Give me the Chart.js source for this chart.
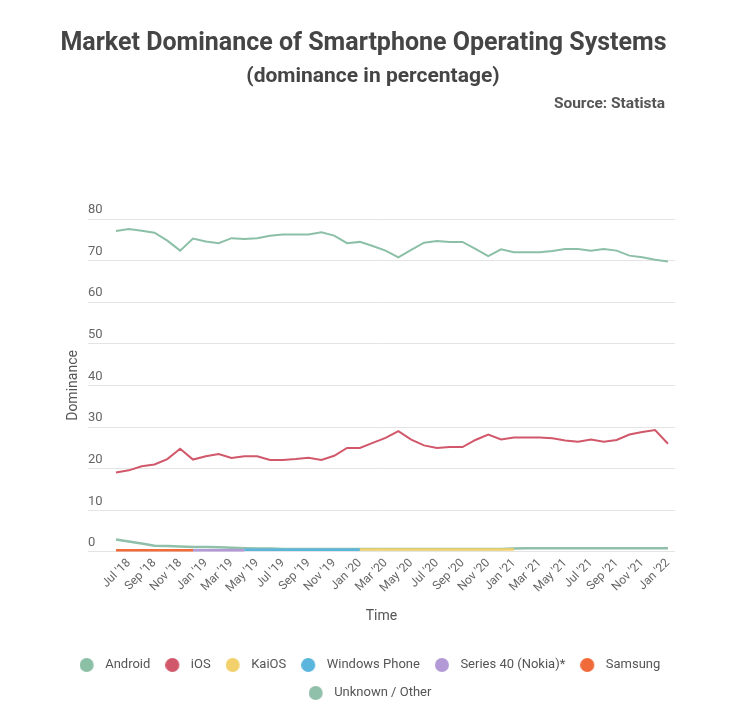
<!DOCTYPE html>
<html>
<head>
<meta charset="utf-8">
<script src="https://cdn.jsdelivr.net/npm/chart.js@4"></script>
<style>
html,body{margin:0;padding:0;background:#fff;}
#wrap{width:740px;height:726px;position:relative;}
</style>
</head>
<body>
<div id="wrap"><canvas id="c" width="740" height="726"></canvas></div>
<script>
const titleText = 'Market Dominance of Smartphone Operating Systems';
const subtitleText = '(dominance in percentage)';
const sourceText = 'Source: Statista';

const months = ["Jun '18","Jul '18","Aug '18","Sep '18","Oct '18","Nov '18","Dec '18",
  "Jan '19","Feb '19","Mar '19","Apr '19","May '19","Jun '19","Jul '19","Aug '19","Sep '19","Oct '19","Nov '19","Dec '19",
  "Jan '20","Feb '20","Mar '20","Apr '20","May '20","Jun '20","Jul '20","Aug '20","Sep '20","Oct '20","Nov '20","Dec '20",
  "Jan '21","Feb '21","Mar '21","Apr '21","May '21","Jun '21","Jul '21","Aug '21","Sep '21","Oct '21","Nov '21","Dec '21",
  "Jan '22"];
const tickIndex = [1,3,5,7,9,11,13,15,17,19,21,23,25,27,29,31,33,35,37,39,41,43];
const yTicks = [0,10,20,30,40,50,60,70,80];

const android = [77.1,77.6,77.2,76.7,74.8,72.4,75.3,74.6,74.2,75.4,75.2,75.4,76.0,76.3,76.3,76.3,76.8,76.0,74.2,74.5,73.5,72.4,70.8,72.6,74.3,74.7,74.5,74.5,72.8,71.1,72.7,72.0,72.0,72.0,72.3,72.8,72.8,72.4,72.8,72.4,71.2,70.8,70.2,69.8];
const ios = [19.1,19.6,20.6,21.0,22.3,24.8,22.2,23.0,23.5,22.6,23.0,23.0,22.1,22.1,22.3,22.6,22.1,23.1,25.0,25.0,26.2,27.4,29.0,27.0,25.6,25.0,25.2,25.2,26.9,28.2,27.0,27.5,27.5,27.5,27.3,26.8,26.5,27.0,26.5,26.9,28.2,28.8,29.3,26.0];
const kaios = [null,null,null,null,null,null,null,null,null,null,null,null,null,null,null,null,null,null,null,0.6,0.6,0.6,0.6,0.6,0.6,0.6,0.6,0.6,0.6,0.6,0.6,0.6,null,null,null,null,null,null,null,null,null,null,null,null];
const windowsPhone = [null,null,null,null,null,null,null,null,null,null,0.5,0.5,0.5,0.5,0.5,0.5,0.5,0.5,0.5,0.5,null,null,null,null,null,null,null,null,null,null,null,null,null,null,null,null,null,null,null,null,null,null,null,null];
const series40 = [null,null,null,null,null,null,0.4,0.4,0.4,0.4,0.4,null,null,null,null,null,null,null,null,null,null,null,null,null,null,null,null,null,null,null,null,null,null,null,null,null,null,null,null,null,null,null,null,null];
const samsung = [0.4,0.4,0.4,0.4,0.4,0.4,0.4,null,null,null,null,null,null,null,null,null,null,null,null,null,null,null,null,null,null,null,null,null,null,null,null,null,null,null,null,null,null,null,null,null,null,null,null,null];
const unknown = [3.0,2.5,2.0,1.5,1.4,1.3,1.2,1.2,1.1,1.0,0.9,0.8,0.8,0.7,0.7,0.7,0.7,0.7,0.7,0.7,0.7,0.7,0.7,0.7,0.7,0.7,0.7,0.7,0.7,0.7,0.7,0.8,0.9,0.9,0.9,0.9,0.9,0.9,0.9,0.9,0.9,0.9,0.9,0.9];

const seriesNames = ['Android','iOS','KaiOS','Windows Phone','Series 40 (Nokia)*','Samsung','Unknown / Other'];
const seriesColors = ['#8cc0a6','#d1576a','#f2d06b','#5ab6dd','#b39ad6','#f06a3a','#90bfaa'];
const seriesData = [android, ios, kaios, windowsPhone, series40, samsung, unknown];

function makeDot(color){
  const c = document.createElement('canvas');
  c.width = 19; c.height = 14;
  const g = c.getContext('2d');
  g.fillStyle = color;
  g.beginPath(); g.arc(7,7,7,0,Math.PI*2); g.fill();
  return c;
}
const dots = seriesColors.map(makeDot);

const header = {
  id: 'header',
  afterDraw(chart){
    const ctx = chart.ctx;
    ctx.save();
    ctx.textBaseline = 'middle';
    ctx.textAlign = 'center';
    ctx.fillStyle = '#454545';
    ctx.font = 'bold 25px Roboto';
    ctx.fillText(titleText, 363.5, 44);
    ctx.font = 'bold 21px Roboto';
    ctx.fillText(subtitleText, 373, 77);
    ctx.textAlign = 'right';
    ctx.fillStyle = '#555';
    ctx.font = 'bold 15.5px Roboto';
    ctx.fillText(sourceText, 665, 104);
    ctx.restore();
  }
};

const datasets = seriesNames.map((name, k) => ({
  label: name,
  data: seriesData[k].map((v, i) => ({x: i, y: v})),
  borderColor: seriesColors[k],
  backgroundColor: seriesColors[k],
  borderWidth: k < 2 ? 2 : 2.5,
  pointRadius: 0,
  pointHoverRadius: 0,
  tension: 0,
  fill: false,
  spanGaps: false
}));

new Chart(document.getElementById('c'), {
  type: 'line',
  data: { datasets },
  options: {
    responsive: false,
    devicePixelRatio: 1,
    animation: false,
    layout: { padding: { top: 219, bottom: 16.5, left: 0, right: 0 } },
    scales: {
      x: {
        type: 'linear',
        min: -2.18,
        max: 43.55,
        grid: { display: false, drawTicks: false },
        border: { display: false },
        afterBuildTicks(axis){ axis.ticks = tickIndex.map(v => ({value: v})); },
        ticks: {
          autoSkip: false, minRotation: 45, maxRotation: 45, padding: 4,
          color: '#666', font: { family: 'Roboto', size: 12 },
          callback: (v) => months[v]
        },
        title: { display: true, text: 'Time', color: '#555', font: { family: 'Roboto', size: 14 }, padding: { top: 8.4, bottom: 19.1 } }
      },
      y: {
        position: 'left',
        min: 0, max: 80,
        afterBuildTicks(axis){ axis.ticks = yTicks.map(v => ({value: v})); },
        ticks: { mirror: true, padding: 0, labelOffset: -9, color: '#666', font: { family: 'Roboto', size: 13 } },
        grid: { color: '#e4e4e4', drawTicks: false, lineWidth: 1 },
        border: { display: false },
        title: { display: true, text: 'Dominance', color: '#555', font: { family: 'Roboto', size: 14 }, padding: { top: 65, bottom: 0 } },
        afterFit(s){ s.width = 88; }
      },
      yR: {
        position: 'right',
        display: true,
        grid: { display: false, drawTicks: false },
        border: { display: false },
        ticks: { display: false },
        afterFit(s){ s.width = 65; }
      }
    },
    plugins: {
      title: { display: false },
      tooltip: { enabled: false },
      legend: {
        position: 'bottom',
        labels: {
          usePointStyle: true,
          pointStyleWidth: 19,
          padding: 15,
          color: '#555',
          font: { family: 'Roboto', size: 13 },
          generateLabels(chart){
            const items = Chart.defaults.plugins.legend.labels.generateLabels(chart);
            items.forEach(it => { it.pointStyle = dots[it.datasetIndex]; });
            return items;
          }
        }
      }
    }
  },
  plugins: [header]
});
</script>
</body>
</html>
